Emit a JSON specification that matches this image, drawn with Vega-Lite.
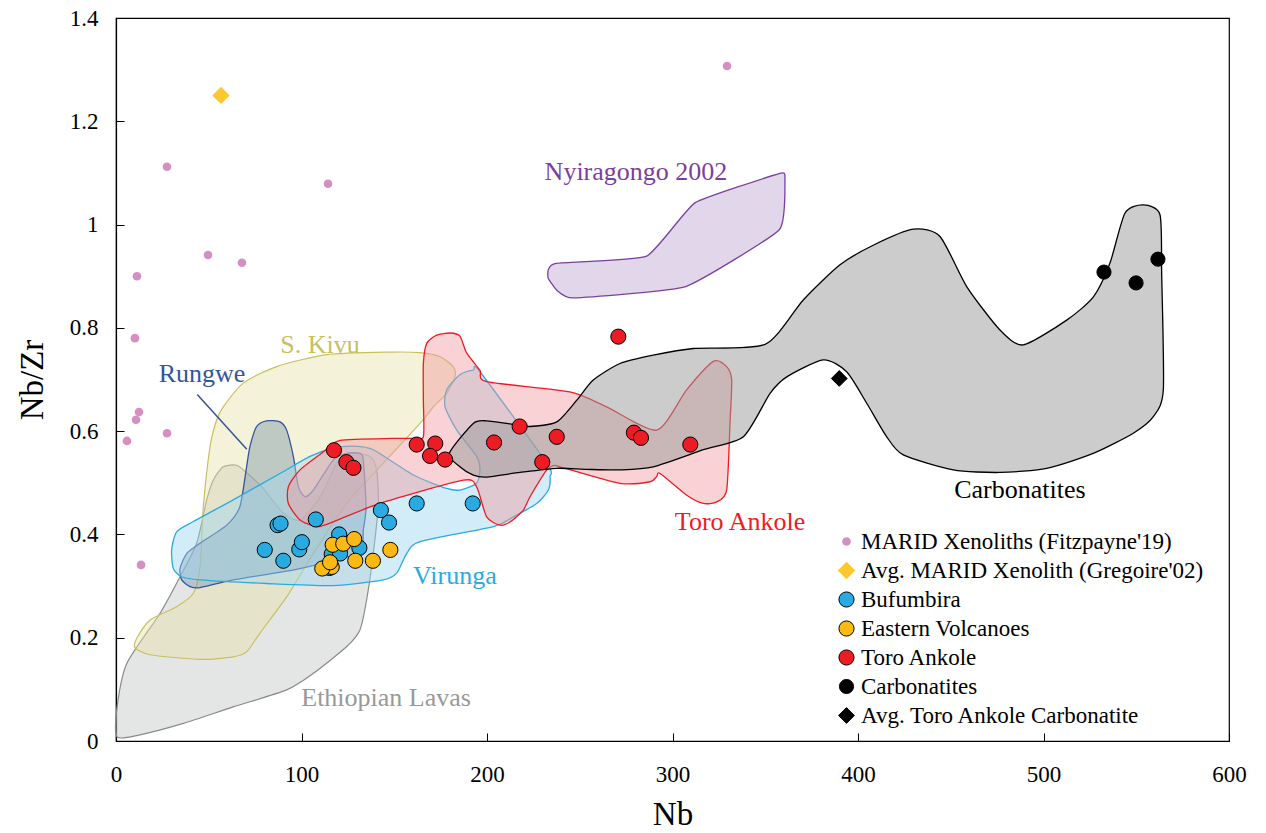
{
  "$schema": "https://vega.github.io/schema/vega-lite/v6.json",
  "width": 1113,
  "height": 723,
  "autosize": {"type": "none"},
  "padding": {"left": 116, "top": 18, "right": 37, "bottom": 92},
  "background": "white",
  "config": {
    "view": {"stroke": "black", "strokeWidth": 1.2},
    "font": "Liberation Serif",
    "axis": {"grid": false, "labelFlush": false, "domainColor": "black", "tickColor": "black", "labelColor": "black", "titleColor": "black", "labelFont": "Liberation Serif", "titleFont": "Liberation Serif", "titleFontWeight": "normal", "labelFontSize": 23, "titleFontSize": 33, "tickSize": -8, "domainWidth": 1.2}
  },
  "datasets": {
    "regions": [
      {"region": "Ethiopian Lavas", "i": 0, "x": 57.8, "y": 0.531},
      {"region": "Ethiopian Lavas", "i": 1, "x": 65.1, "y": 0.534},
      {"region": "Ethiopian Lavas", "i": 2, "x": 71.2, "y": 0.517},
      {"region": "Ethiopian Lavas", "i": 3, "x": 78.7, "y": 0.492},
      {"region": "Ethiopian Lavas", "i": 4, "x": 90.0, "y": 0.442},
      {"region": "Ethiopian Lavas", "i": 5, "x": 99.2, "y": 0.428},
      {"region": "Ethiopian Lavas", "i": 6, "x": 110.0, "y": 0.472},
      {"region": "Ethiopian Lavas", "i": 7, "x": 119.1, "y": 0.538},
      {"region": "Ethiopian Lavas", "i": 8, "x": 126.1, "y": 0.557},
      {"region": "Ethiopian Lavas", "i": 9, "x": 136.9, "y": 0.551},
      {"region": "Ethiopian Lavas", "i": 10, "x": 140.5, "y": 0.525},
      {"region": "Ethiopian Lavas", "i": 11, "x": 141.4, "y": 0.460},
      {"region": "Ethiopian Lavas", "i": 12, "x": 138.7, "y": 0.363},
      {"region": "Ethiopian Lavas", "i": 13, "x": 135.1, "y": 0.273},
      {"region": "Ethiopian Lavas", "i": 14, "x": 131.5, "y": 0.215},
      {"region": "Ethiopian Lavas", "i": 15, "x": 124.4, "y": 0.183},
      {"region": "Ethiopian Lavas", "i": 16, "x": 106.4, "y": 0.131},
      {"region": "Ethiopian Lavas", "i": 17, "x": 92.0, "y": 0.099},
      {"region": "Ethiopian Lavas", "i": 18, "x": 63.2, "y": 0.066},
      {"region": "Ethiopian Lavas", "i": 19, "x": 36.3, "y": 0.034},
      {"region": "Ethiopian Lavas", "i": 20, "x": 12.9, "y": 0.012},
      {"region": "Ethiopian Lavas", "i": 21, "x": 0.6, "y": 0.008},
      {"region": "Ethiopian Lavas", "i": 22, "x": 0.6, "y": 0.066},
      {"region": "Ethiopian Lavas", "i": 23, "x": 5.8, "y": 0.150},
      {"region": "Ethiopian Lavas", "i": 24, "x": 23.7, "y": 0.247},
      {"region": "Ethiopian Lavas", "i": 25, "x": 34.5, "y": 0.318},
      {"region": "Ethiopian Lavas", "i": 26, "x": 43.5, "y": 0.383},
      {"region": "Ethiopian Lavas", "i": 27, "x": 48.9, "y": 0.467},
      {"region": "Ethiopian Lavas", "i": 28, "x": 52.4, "y": 0.505},

      {"region": "S. Kivu", "i": 0, "x": 50.7, "y": 0.570},
      {"region": "S. Kivu", "i": 1, "x": 54.3, "y": 0.622},
      {"region": "S. Kivu", "i": 2, "x": 57.8, "y": 0.647},
      {"region": "S. Kivu", "i": 3, "x": 68.6, "y": 0.693},
      {"region": "S. Kivu", "i": 4, "x": 86.6, "y": 0.725},
      {"region": "S. Kivu", "i": 5, "x": 113.6, "y": 0.748},
      {"region": "S. Kivu", "i": 6, "x": 147.7, "y": 0.753},
      {"region": "S. Kivu", "i": 7, "x": 163.9, "y": 0.752},
      {"region": "S. Kivu", "i": 8, "x": 174.7, "y": 0.744},
      {"region": "S. Kivu", "i": 9, "x": 181.8, "y": 0.725},
      {"region": "S. Kivu", "i": 10, "x": 182.7, "y": 0.705},
      {"region": "S. Kivu", "i": 11, "x": 178.3, "y": 0.673},
      {"region": "S. Kivu", "i": 12, "x": 171.1, "y": 0.647},
      {"region": "S. Kivu", "i": 13, "x": 163.9, "y": 0.615},
      {"region": "S. Kivu", "i": 14, "x": 142.3, "y": 0.531},
      {"region": "S. Kivu", "i": 15, "x": 124.4, "y": 0.460},
      {"region": "S. Kivu", "i": 16, "x": 106.4, "y": 0.363},
      {"region": "S. Kivu", "i": 17, "x": 92.0, "y": 0.279},
      {"region": "S. Kivu", "i": 18, "x": 77.6, "y": 0.209},
      {"region": "S. Kivu", "i": 19, "x": 70.5, "y": 0.173},
      {"region": "S. Kivu", "i": 20, "x": 63.2, "y": 0.163},
      {"region": "S. Kivu", "i": 21, "x": 45.3, "y": 0.158},
      {"region": "S. Kivu", "i": 22, "x": 18.3, "y": 0.167},
      {"region": "S. Kivu", "i": 23, "x": 10.2, "y": 0.181},
      {"region": "S. Kivu", "i": 24, "x": 11.2, "y": 0.199},
      {"region": "S. Kivu", "i": 25, "x": 18.3, "y": 0.234},
      {"region": "S. Kivu", "i": 26, "x": 32.7, "y": 0.260},
      {"region": "S. Kivu", "i": 27, "x": 41.7, "y": 0.286},
      {"region": "S. Kivu", "i": 28, "x": 45.3, "y": 0.338},
      {"region": "S. Kivu", "i": 29, "x": 47.1, "y": 0.454},

      {"region": "Rungwe", "i": 0, "x": 72.2, "y": 0.570},
      {"region": "Rungwe", "i": 1, "x": 75.8, "y": 0.609},
      {"region": "Rungwe", "i": 2, "x": 81.2, "y": 0.620},
      {"region": "Rungwe", "i": 3, "x": 88.4, "y": 0.618},
      {"region": "Rungwe", "i": 4, "x": 92.0, "y": 0.602},
      {"region": "Rungwe", "i": 5, "x": 95.6, "y": 0.551},
      {"region": "Rungwe", "i": 6, "x": 98.3, "y": 0.492},
      {"region": "Rungwe", "i": 7, "x": 101.9, "y": 0.473},
      {"region": "Rungwe", "i": 8, "x": 106.4, "y": 0.486},
      {"region": "Rungwe", "i": 9, "x": 117.1, "y": 0.544},
      {"region": "Rungwe", "i": 10, "x": 124.4, "y": 0.557},
      {"region": "Rungwe", "i": 11, "x": 131.5, "y": 0.557},
      {"region": "Rungwe", "i": 12, "x": 133.3, "y": 0.544},
      {"region": "Rungwe", "i": 13, "x": 134.8, "y": 0.454},
      {"region": "Rungwe", "i": 14, "x": 133.3, "y": 0.409},
      {"region": "Rungwe", "i": 15, "x": 130.5, "y": 0.364},
      {"region": "Rungwe", "i": 16, "x": 99.2, "y": 0.334},
      {"region": "Rungwe", "i": 17, "x": 63.2, "y": 0.312},
      {"region": "Rungwe", "i": 18, "x": 45.3, "y": 0.297},
      {"region": "Rungwe", "i": 19, "x": 39.9, "y": 0.299},
      {"region": "Rungwe", "i": 20, "x": 35.4, "y": 0.312},
      {"region": "Rungwe", "i": 21, "x": 34.5, "y": 0.334},
      {"region": "Rungwe", "i": 22, "x": 38.1, "y": 0.363},
      {"region": "Rungwe", "i": 23, "x": 45.3, "y": 0.383},
      {"region": "Rungwe", "i": 24, "x": 59.7, "y": 0.418},
      {"region": "Rungwe", "i": 25, "x": 66.8, "y": 0.454},
      {"region": "Rungwe", "i": 26, "x": 70.4, "y": 0.531},

      {"region": "Virunga", "i": 0, "x": 30.0, "y": 0.370},
      {"region": "Virunga", "i": 1, "x": 32.7, "y": 0.405},
      {"region": "Virunga", "i": 2, "x": 41.7, "y": 0.425},
      {"region": "Virunga", "i": 3, "x": 63.2, "y": 0.467},
      {"region": "Virunga", "i": 4, "x": 88.4, "y": 0.518},
      {"region": "Virunga", "i": 5, "x": 104.6, "y": 0.551},
      {"region": "Virunga", "i": 6, "x": 117.1, "y": 0.567},
      {"region": "Virunga", "i": 7, "x": 127.9, "y": 0.571},
      {"region": "Virunga", "i": 8, "x": 138.7, "y": 0.564},
      {"region": "Virunga", "i": 9, "x": 160.3, "y": 0.515},
      {"region": "Virunga", "i": 10, "x": 178.3, "y": 0.489},
      {"region": "Virunga", "i": 11, "x": 185.4, "y": 0.486},
      {"region": "Virunga", "i": 12, "x": 194.4, "y": 0.499},
      {"region": "Virunga", "i": 13, "x": 196.2, "y": 0.525},
      {"region": "Virunga", "i": 14, "x": 194.4, "y": 0.551},
      {"region": "Virunga", "i": 15, "x": 183.7, "y": 0.602},
      {"region": "Virunga", "i": 16, "x": 177.4, "y": 0.647},
      {"region": "Virunga", "i": 17, "x": 178.3, "y": 0.680},
      {"region": "Virunga", "i": 18, "x": 185.4, "y": 0.709},
      {"region": "Virunga", "i": 19, "x": 192.6, "y": 0.718},
      {"region": "Virunga", "i": 20, "x": 196.2, "y": 0.715},
      {"region": "Virunga", "i": 21, "x": 232.2, "y": 0.538},
      {"region": "Virunga", "i": 22, "x": 234.0, "y": 0.512},
      {"region": "Virunga", "i": 23, "x": 233.1, "y": 0.486},
      {"region": "Virunga", "i": 24, "x": 226.8, "y": 0.460},
      {"region": "Virunga", "i": 25, "x": 214.2, "y": 0.434},
      {"region": "Virunga", "i": 26, "x": 203.4, "y": 0.415},
      {"region": "Virunga", "i": 27, "x": 163.9, "y": 0.386},
      {"region": "Virunga", "i": 28, "x": 156.7, "y": 0.363},
      {"region": "Virunga", "i": 29, "x": 151.3, "y": 0.325},
      {"region": "Virunga", "i": 30, "x": 144.1, "y": 0.312},
      {"region": "Virunga", "i": 31, "x": 117.1, "y": 0.301},
      {"region": "Virunga", "i": 32, "x": 81.2, "y": 0.305},
      {"region": "Virunga", "i": 33, "x": 45.3, "y": 0.312},
      {"region": "Virunga", "i": 34, "x": 35.4, "y": 0.318},
      {"region": "Virunga", "i": 35, "x": 30.9, "y": 0.334},

      {"region": "Toro Ankole", "i": 0, "x": 92.9, "y": 0.492},
      {"region": "Toro Ankole", "i": 1, "x": 99.2, "y": 0.525},
      {"region": "Toro Ankole", "i": 2, "x": 111.8, "y": 0.560},
      {"region": "Toro Ankole", "i": 3, "x": 120.8, "y": 0.582},
      {"region": "Toro Ankole", "i": 4, "x": 149.5, "y": 0.586},
      {"region": "Toro Ankole", "i": 5, "x": 160.3, "y": 0.586},
      {"region": "Toro Ankole", "i": 6, "x": 165.7, "y": 0.589},
      {"region": "Toro Ankole", "i": 7, "x": 165.7, "y": 0.660},
      {"region": "Toro Ankole", "i": 8, "x": 165.7, "y": 0.731},
      {"region": "Toro Ankole", "i": 9, "x": 167.5, "y": 0.770},
      {"region": "Toro Ankole", "i": 10, "x": 172.9, "y": 0.786},
      {"region": "Toro Ankole", "i": 11, "x": 180.1, "y": 0.790},
      {"region": "Toro Ankole", "i": 12, "x": 185.4, "y": 0.784},
      {"region": "Toro Ankole", "i": 13, "x": 189.1, "y": 0.751},
      {"region": "Toro Ankole", "i": 14, "x": 196.2, "y": 0.718},
      {"region": "Toro Ankole", "i": 15, "x": 199.8, "y": 0.696},
      {"region": "Toro Ankole", "i": 16, "x": 244.7, "y": 0.676},
      {"region": "Toro Ankole", "i": 17, "x": 264.5, "y": 0.647},
      {"region": "Toro Ankole", "i": 18, "x": 291.5, "y": 0.602},
      {"region": "Toro Ankole", "i": 19, "x": 307.6, "y": 0.680},
      {"region": "Toro Ankole", "i": 20, "x": 322.0, "y": 0.735},
      {"region": "Toro Ankole", "i": 21, "x": 329.2, "y": 0.725},
      {"region": "Toro Ankole", "i": 22, "x": 331.9, "y": 0.699},
      {"region": "Toro Ankole", "i": 23, "x": 331.0, "y": 0.615},
      {"region": "Toro Ankole", "i": 24, "x": 329.2, "y": 0.486},
      {"region": "Toro Ankole", "i": 25, "x": 323.8, "y": 0.463},
      {"region": "Toro Ankole", "i": 26, "x": 316.6, "y": 0.460},
      {"region": "Toro Ankole", "i": 27, "x": 307.7, "y": 0.476},
      {"region": "Toro Ankole", "i": 28, "x": 293.3, "y": 0.518},
      {"region": "Toro Ankole", "i": 29, "x": 291.5, "y": 0.512},
      {"region": "Toro Ankole", "i": 30, "x": 287.9, "y": 0.502},
      {"region": "Toro Ankole", "i": 31, "x": 271.7, "y": 0.499},
      {"region": "Toro Ankole", "i": 32, "x": 239.4, "y": 0.531},
      {"region": "Toro Ankole", "i": 33, "x": 235.7, "y": 0.533},
      {"region": "Toro Ankole", "i": 34, "x": 232.2, "y": 0.525},
      {"region": "Toro Ankole", "i": 35, "x": 223.2, "y": 0.473},
      {"region": "Toro Ankole", "i": 36, "x": 219.6, "y": 0.447},
      {"region": "Toro Ankole", "i": 37, "x": 212.4, "y": 0.424},
      {"region": "Toro Ankole", "i": 38, "x": 207.0, "y": 0.418},
      {"region": "Toro Ankole", "i": 39, "x": 199.8, "y": 0.434},
      {"region": "Toro Ankole", "i": 40, "x": 194.4, "y": 0.492},
      {"region": "Toro Ankole", "i": 41, "x": 187.2, "y": 0.505},
      {"region": "Toro Ankole", "i": 42, "x": 142.3, "y": 0.460},
      {"region": "Toro Ankole", "i": 43, "x": 115.4, "y": 0.422},
      {"region": "Toro Ankole", "i": 44, "x": 108.2, "y": 0.415},
      {"region": "Toro Ankole", "i": 45, "x": 99.2, "y": 0.428},
      {"region": "Toro Ankole", "i": 46, "x": 92.9, "y": 0.460},

      {"region": "Carbonatites", "i": 0, "x": 179.7, "y": 0.557},
      {"region": "Carbonatites", "i": 1, "x": 192.6, "y": 0.615},
      {"region": "Carbonatites", "i": 2, "x": 199.8, "y": 0.620},
      {"region": "Carbonatites", "i": 3, "x": 210.6, "y": 0.615},
      {"region": "Carbonatites", "i": 4, "x": 223.2, "y": 0.609},
      {"region": "Carbonatites", "i": 5, "x": 237.6, "y": 0.618},
      {"region": "Carbonatites", "i": 6, "x": 248.4, "y": 0.660},
      {"region": "Carbonatites", "i": 7, "x": 257.3, "y": 0.699},
      {"region": "Carbonatites", "i": 8, "x": 271.7, "y": 0.731},
      {"region": "Carbonatites", "i": 9, "x": 289.6, "y": 0.747},
      {"region": "Carbonatites", "i": 10, "x": 311.2, "y": 0.760},
      {"region": "Carbonatites", "i": 11, "x": 349.9, "y": 0.768},
      {"region": "Carbonatites", "i": 12, "x": 370.5, "y": 0.854},
      {"region": "Carbonatites", "i": 13, "x": 390.3, "y": 0.922},
      {"region": "Carbonatites", "i": 14, "x": 408.2, "y": 0.960},
      {"region": "Carbonatites", "i": 15, "x": 429.8, "y": 0.991},
      {"region": "Carbonatites", "i": 16, "x": 444.2, "y": 0.977},
      {"region": "Carbonatites", "i": 17, "x": 458.6, "y": 0.880},
      {"region": "Carbonatites", "i": 18, "x": 476.5, "y": 0.796},
      {"region": "Carbonatites", "i": 19, "x": 489.1, "y": 0.767},
      {"region": "Carbonatites", "i": 20, "x": 512.5, "y": 0.815},
      {"region": "Carbonatites", "i": 21, "x": 526.9, "y": 0.860},
      {"region": "Carbonatites", "i": 22, "x": 535.8, "y": 0.925},
      {"region": "Carbonatites", "i": 23, "x": 543.9, "y": 1.022},
      {"region": "Carbonatites", "i": 24, "x": 553.8, "y": 1.038},
      {"region": "Carbonatites", "i": 25, "x": 562.8, "y": 1.019},
      {"region": "Carbonatites", "i": 26, "x": 563.7, "y": 0.906},
      {"region": "Carbonatites", "i": 27, "x": 564.6, "y": 0.680},
      {"region": "Carbonatites", "i": 28, "x": 559.2, "y": 0.628},
      {"region": "Carbonatites", "i": 29, "x": 548.4, "y": 0.596},
      {"region": "Carbonatites", "i": 30, "x": 526.8, "y": 0.557},
      {"region": "Carbonatites", "i": 31, "x": 501.7, "y": 0.528},
      {"region": "Carbonatites", "i": 32, "x": 476.5, "y": 0.520},
      {"region": "Carbonatites", "i": 33, "x": 451.4, "y": 0.525},
      {"region": "Carbonatites", "i": 34, "x": 424.4, "y": 0.554},
      {"region": "Carbonatites", "i": 35, "x": 415.5, "y": 0.589},
      {"region": "Carbonatites", "i": 36, "x": 404.7, "y": 0.654},
      {"region": "Carbonatites", "i": 37, "x": 393.9, "y": 0.715},
      {"region": "Carbonatites", "i": 38, "x": 381.3, "y": 0.738},
      {"region": "Carbonatites", "i": 39, "x": 361.6, "y": 0.705},
      {"region": "Carbonatites", "i": 40, "x": 352.6, "y": 0.673},
      {"region": "Carbonatites", "i": 41, "x": 338.2, "y": 0.589},
      {"region": "Carbonatites", "i": 42, "x": 316.6, "y": 0.564},
      {"region": "Carbonatites", "i": 43, "x": 289.6, "y": 0.531},
      {"region": "Carbonatites", "i": 44, "x": 271.7, "y": 0.525},
      {"region": "Carbonatites", "i": 45, "x": 253.7, "y": 0.526},
      {"region": "Carbonatites", "i": 46, "x": 237.6, "y": 0.528},
      {"region": "Carbonatites", "i": 47, "x": 217.8, "y": 0.520},
      {"region": "Carbonatites", "i": 48, "x": 199.8, "y": 0.511},
      {"region": "Carbonatites", "i": 49, "x": 192.6, "y": 0.515},
      {"region": "Carbonatites", "i": 50, "x": 185.4, "y": 0.531},

      {"region": "Nyiragongo 2002", "i": 0, "x": 237.2, "y": 0.925},
      {"region": "Nyiragongo 2002", "i": 1, "x": 286.1, "y": 0.939},
      {"region": "Nyiragongo 2002", "i": 2, "x": 312.1, "y": 1.042},
      {"region": "Nyiragongo 2002", "i": 3, "x": 357.9, "y": 1.099},
      {"region": "Nyiragongo 2002", "i": 4, "x": 360.6, "y": 1.090},
      {"region": "Nyiragongo 2002", "i": 5, "x": 357.6, "y": 0.990},
      {"region": "Nyiragongo 2002", "i": 6, "x": 307.1, "y": 0.880},
      {"region": "Nyiragongo 2002", "i": 7, "x": 246.5, "y": 0.858},
      {"region": "Nyiragongo 2002", "i": 8, "x": 237.6, "y": 0.873},
      {"region": "Nyiragongo 2002", "i": 9, "x": 233.0, "y": 0.896},
      {"region": "Nyiragongo 2002", "i": 10, "x": 233.0, "y": 0.912}
    ],
    "points": [
      {"group": "MARID Xenoliths (Fitzpayne'19)", "x": 329.4, "y": 1.307},
      {"group": "MARID Xenoliths (Fitzpayne'19)", "x": 27.5, "y": 1.112},
      {"group": "MARID Xenoliths (Fitzpayne'19)", "x": 114.3, "y": 1.079},
      {"group": "MARID Xenoliths (Fitzpayne'19)", "x": 49.6, "y": 0.941},
      {"group": "MARID Xenoliths (Fitzpayne'19)", "x": 11.3, "y": 0.900},
      {"group": "MARID Xenoliths (Fitzpayne'19)", "x": 67.9, "y": 0.926},
      {"group": "MARID Xenoliths (Fitzpayne'19)", "x": 10.2, "y": 0.780},
      {"group": "MARID Xenoliths (Fitzpayne'19)", "x": 12.4, "y": 0.637},
      {"group": "MARID Xenoliths (Fitzpayne'19)", "x": 10.8, "y": 0.622},
      {"group": "MARID Xenoliths (Fitzpayne'19)", "x": 27.5, "y": 0.596},
      {"group": "MARID Xenoliths (Fitzpayne'19)", "x": 5.9, "y": 0.581},
      {"group": "MARID Xenoliths (Fitzpayne'19)", "x": 13.5, "y": 0.341},
      {"group": "Avg. MARID Xenolith (Gregoire'02)", "x": 56.6, "y": 1.250},
      {"group": "Bufumbira", "x": 80.2, "y": 0.370},
      {"group": "Bufumbira", "x": 87.1, "y": 0.418},
      {"group": "Bufumbira", "x": 88.7, "y": 0.421},
      {"group": "Bufumbira", "x": 90.2, "y": 0.349},
      {"group": "Bufumbira", "x": 98.8, "y": 0.371},
      {"group": "Bufumbira", "x": 100.2, "y": 0.385},
      {"group": "Bufumbira", "x": 107.7, "y": 0.429},
      {"group": "Bufumbira", "x": 116.3, "y": 0.362},
      {"group": "Bufumbira", "x": 115.0, "y": 0.335},
      {"group": "Bufumbira", "x": 120.3, "y": 0.400},
      {"group": "Bufumbira", "x": 120.8, "y": 0.363},
      {"group": "Bufumbira", "x": 131.2, "y": 0.374},
      {"group": "Bufumbira", "x": 142.8, "y": 0.447},
      {"group": "Bufumbira", "x": 147.2, "y": 0.423},
      {"group": "Bufumbira", "x": 162.1, "y": 0.460},
      {"group": "Bufumbira", "x": 192.3, "y": 0.460},
      {"group": "Eastern Volcanoes", "x": 116.8, "y": 0.380},
      {"group": "Eastern Volcanoes", "x": 122.5, "y": 0.382},
      {"group": "Eastern Volcanoes", "x": 128.4, "y": 0.391},
      {"group": "Eastern Volcanoes", "x": 129.0, "y": 0.349},
      {"group": "Eastern Volcanoes", "x": 138.5, "y": 0.349},
      {"group": "Eastern Volcanoes", "x": 147.9, "y": 0.370},
      {"group": "Eastern Volcanoes", "x": 116.3, "y": 0.337},
      {"group": "Eastern Volcanoes", "x": 111.2, "y": 0.334},
      {"group": "Eastern Volcanoes", "x": 115.4, "y": 0.346},
      {"group": "Toro Ankole", "x": 117.5, "y": 0.563},
      {"group": "Toro Ankole", "x": 124.2, "y": 0.540},
      {"group": "Toro Ankole", "x": 128.0, "y": 0.529},
      {"group": "Toro Ankole", "x": 162.1, "y": 0.574},
      {"group": "Toro Ankole", "x": 172.1, "y": 0.576},
      {"group": "Toro Ankole", "x": 169.3, "y": 0.552},
      {"group": "Toro Ankole", "x": 177.4, "y": 0.545},
      {"group": "Toro Ankole", "x": 203.8, "y": 0.578},
      {"group": "Toro Ankole", "x": 217.6, "y": 0.609},
      {"group": "Toro Ankole", "x": 229.8, "y": 0.540},
      {"group": "Toro Ankole", "x": 237.6, "y": 0.589},
      {"group": "Toro Ankole", "x": 270.8, "y": 0.783},
      {"group": "Toro Ankole", "x": 279.2, "y": 0.597},
      {"group": "Toro Ankole", "x": 283.0, "y": 0.587},
      {"group": "Toro Ankole", "x": 309.6, "y": 0.574},
      {"group": "Carbonatites", "x": 532.6, "y": 0.908},
      {"group": "Carbonatites", "x": 549.9, "y": 0.887},
      {"group": "Carbonatites", "x": 561.7, "y": 0.933},
      {"group": "Avg. Toro Ankole Carbonatite", "x": 389.9, "y": 0.702}
    ],
    "labels": [
      {"label": "Nyiragongo 2002", "x": 280.3, "y": 1.102},
      {"label": "S. Kivu", "x": 110.0, "y": 0.767},
      {"label": "Rungwe", "x": 46.4, "y": 0.711},
      {"label": "Toro Ankole", "x": 336.4, "y": 0.424},
      {"label": "Virunga", "x": 182.7, "y": 0.320},
      {"label": "Carbonatites", "x": 487.3, "y": 0.486},
      {"label": "Ethiopian Lavas", "x": 145.6, "y": 0.083}
    ],
    "leader": [
      {"x": 43.8, "y": 0.671, "x2": 70.5, "y2": 0.565}
    ]
  },
  "encoding": {
    "x": {"field": "x", "type": "quantitative", "scale": {"domain": [0, 600], "nice": false, "zero": false}, "axis": {"title": "Nb", "values": [0, 100, 200, 300, 400, 500, 600], "labelPadding": 30, "titlePadding": 12}},
    "y": {"field": "y", "type": "quantitative", "scale": {"domain": [0, 1.4], "nice": false, "zero": false}, "axis": {"title": "Nb/Zr", "values": [0, 0.2, 0.4, 0.6, 0.8, 1, 1.2, 1.4], "format": ".1~f", "labelPadding": 26, "titlePadding": 20}}
  },
  "layer": [
    {"data": {"name": "regions"}, "transform": [{"filter": "datum.region === 'Ethiopian Lavas'"}],
     "mark": {"type": "line", "interpolate": "cardinal-closed", "tension": 0.3, "fill": "#c4c8c8", "fillOpacity": 0.45, "stroke": "#8a8a8a", "strokeWidth": 1.2},
     "encoding": {"order": {"field": "i", "type": "quantitative"}}},
    {"data": {"name": "regions"}, "transform": [{"filter": "datum.region === 'S. Kivu'"}],
     "mark": {"type": "line", "interpolate": "cardinal-closed", "tension": 0.3, "fill": "#e6e2a8", "fillOpacity": 0.45, "stroke": "#c8c060", "strokeWidth": 1.2},
     "encoding": {"order": {"field": "i", "type": "quantitative"}}},
    {"data": {"name": "regions"}, "transform": [{"filter": "datum.region === 'Rungwe'"}],
     "mark": {"type": "line", "interpolate": "cardinal-closed", "tension": 0.3, "fill": "#7f96ae", "fillOpacity": 0.45, "stroke": "#34559b", "strokeWidth": 1.3},
     "encoding": {"order": {"field": "i", "type": "quantitative"}}},
    {"data": {"name": "regions"}, "transform": [{"filter": "datum.region === 'Virunga'"}],
     "mark": {"type": "line", "interpolate": "cardinal-closed", "tension": 0.3, "fill": "#9dd6f0", "fillOpacity": 0.45, "stroke": "#29abe2", "strokeWidth": 1.3},
     "encoding": {"order": {"field": "i", "type": "quantitative"}}},
    {"data": {"name": "regions"}, "transform": [{"filter": "datum.region === 'Toro Ankole'"}],
     "mark": {"type": "line", "interpolate": "cardinal-closed", "tension": 0.3, "fill": "#f09ca0", "fillOpacity": 0.45, "stroke": "#ed1c24", "strokeWidth": 1.3},
     "encoding": {"order": {"field": "i", "type": "quantitative"}}},
    {"data": {"name": "regions"}, "transform": [{"filter": "datum.region === 'Carbonatites'"}],
     "mark": {"type": "line", "interpolate": "cardinal-closed", "tension": 0.3, "fill": "#999999", "fillOpacity": 0.5, "stroke": "black", "strokeWidth": 1.3},
     "encoding": {"order": {"field": "i", "type": "quantitative"}}},
    {"data": {"name": "regions"}, "transform": [{"filter": "datum.region === 'Nyiragongo 2002'"}],
     "mark": {"type": "line", "interpolate": "cardinal-closed", "tension": 0.6, "fill": "#c5aed8", "fillOpacity": 0.5, "stroke": "#7b3f9e", "strokeWidth": 1.3},
     "encoding": {"order": {"field": "i", "type": "quantitative"}}},
    {"data": {"name": "leader"},
     "mark": {"type": "rule", "stroke": "#34559b", "strokeWidth": 1.5},
     "encoding": {"x2": {"field": "x2"}, "y2": {"field": "y2"}}},
    {"data": {"name": "labels"},
     "mark": {"type": "text", "font": "Liberation Serif", "fontSize": 26, "align": "center", "baseline": "middle"},
     "encoding": {
       "text": {"field": "label"},
       "color": {"field": "label", "type": "nominal", "legend": null,
         "scale": {"domain": ["Nyiragongo 2002", "S. Kivu", "Rungwe", "Toro Ankole", "Virunga", "Carbonatites", "Ethiopian Lavas"],
                   "range": ["#7b3f9e", "#c8c060", "#34559b", "#ed1c24", "#29abe2", "black", "#999999"]}}}},
    {"data": {"name": "points"},
     "mark": {"type": "point", "filled": true, "opacity": 1, "strokeWidth": 1},
     "encoding": {
       "fill": {"field": "group", "type": "nominal", "title": null,
         "scale": {"domain": ["MARID Xenoliths (Fitzpayne'19)", "Avg. MARID Xenolith (Gregoire'02)", "Bufumbira", "Eastern Volcanoes", "Toro Ankole", "Carbonatites", "Avg. Toro Ankole Carbonatite"],
                   "range": ["#d58fc2", "#fcc72f", "#29abe2", "#fdb913", "#ed1c24", "black", "black"]},
         "legend": {"orient": "none", "legendX": 719, "legendY": 512, "labelFont": "Liberation Serif", "labelFontSize": 23, "labelColor": "black", "rowPadding": 5, "labelOffset": 3, "symbolStrokeWidth": 1, "labelLimit": 500}},
       "shape": {"field": "group", "type": "nominal", "title": null,
         "scale": {"domain": ["MARID Xenoliths (Fitzpayne'19)", "Avg. MARID Xenolith (Gregoire'02)", "Bufumbira", "Eastern Volcanoes", "Toro Ankole", "Carbonatites", "Avg. Toro Ankole Carbonatite"],
                   "range": ["circle", "diamond", "circle", "circle", "circle", "circle", "diamond"]}},
       "size": {"field": "group", "type": "nominal", "title": null,
         "scale": {"type": "ordinal", "domain": ["MARID Xenoliths (Fitzpayne'19)", "Avg. MARID Xenolith (Gregoire'02)", "Bufumbira", "Eastern Volcanoes", "Toro Ankole", "Carbonatites", "Avg. Toro Ankole Carbonatite"],
                   "range": [75, 300, 230, 230, 230, 200, 250]}},
       "stroke": {"field": "group", "type": "nominal", "title": null,
         "scale": {"domain": ["MARID Xenoliths (Fitzpayne'19)", "Avg. MARID Xenolith (Gregoire'02)", "Bufumbira", "Eastern Volcanoes", "Toro Ankole", "Carbonatites", "Avg. Toro Ankole Carbonatite"],
                   "range": ["transparent", "transparent", "black", "black", "black", "black", "black"]}}
     }}
  ]
}
